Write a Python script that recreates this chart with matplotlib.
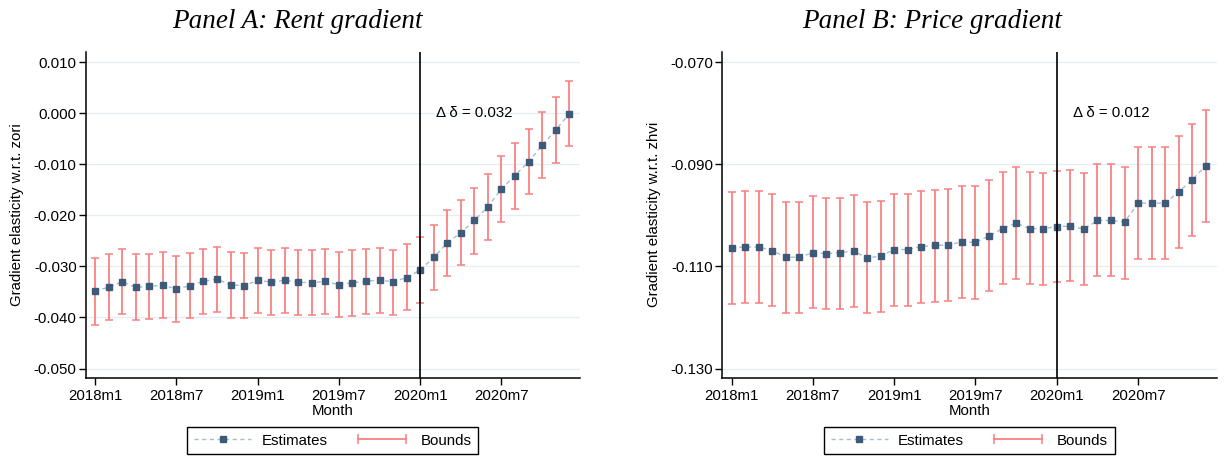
import matplotlib
matplotlib.use("Agg")
import matplotlib.pyplot as plt
import numpy as np
from matplotlib.lines import Line2D
from matplotlib.legend_handler import HandlerLine2D

plt.rcParams['font.family'] = ['Liberation Sans', 'DejaVu Sans']

# months 2018m1 .. 2020m12
tick_labels = ["2018m1", "2018m7", "2019m1", "2019m7", "2020m1", "2020m7"]
tick_pos = [0, 6, 12, 18, 24, 30]
break_month = 24  # 2020m1

rent_est = [-0.0348, -0.0341, -0.0330, -0.0341, -0.0339, -0.0337, -0.0344, -0.0338, -0.0329, -0.0325,
            -0.0336, -0.0338, -0.0327, -0.0331, -0.0327, -0.0331, -0.0332, -0.0329, -0.0336, -0.0332,
            -0.0329, -0.0327, -0.0330, -0.0322, -0.0307, -0.0282, -0.0254, -0.0234, -0.0210, -0.0183,
            -0.0148, -0.0122, -0.0095, -0.0063, -0.0033, -0.0001]
rent_upper = [-0.0284, -0.0276, -0.0265, -0.0276, -0.0275, -0.0272, -0.0280, -0.0273, -0.0265, -0.0261,
              -0.0272, -0.0273, -0.0263, -0.0267, -0.0263, -0.0267, -0.0267, -0.0265, -0.0271, -0.0268,
              -0.0265, -0.0263, -0.0267, -0.0256, -0.0243, -0.0218, -0.0190, -0.0169, -0.0146, -0.0119,
              -0.0084, -0.0059, -0.0030, 0.0002, 0.0031, 0.0063]
rent_lower = [-0.0414, -0.0405, -0.0394, -0.0405, -0.0403, -0.0401, -0.0409, -0.0402, -0.0393, -0.0390,
              -0.0401, -0.0402, -0.0391, -0.0395, -0.0392, -0.0395, -0.0396, -0.0394, -0.0400, -0.0397,
              -0.0394, -0.0392, -0.0395, -0.0386, -0.0371, -0.0346, -0.0319, -0.0298, -0.0275, -0.0248,
              -0.0213, -0.0187, -0.0158, -0.0127, -0.0097, -0.0065]

price_est = [-0.1063, -0.1062, -0.1062, -0.1069, -0.1082, -0.1082, -0.1073, -0.1075, -0.1073, -0.1070,
             -0.1083, -0.1080, -0.1067, -0.1067, -0.1061, -0.1059, -0.1058, -0.1052, -0.1053, -0.1040,
             -0.1026, -0.1015, -0.1026, -0.1026, -0.1022, -0.1021, -0.1027, -0.1010, -0.1010, -0.1013,
             -0.0976, -0.0976, -0.0976, -0.0954, -0.0930, -0.0903]
price_upper = [-0.0954, -0.0952, -0.0952, -0.0959, -0.0973, -0.0973, -0.0963, -0.0965, -0.0965, -0.0961,
               -0.0973, -0.0971, -0.0958, -0.0959, -0.0952, -0.0950, -0.0948, -0.0943, -0.0943, -0.0930,
               -0.0916, -0.0906, -0.0916, -0.0917, -0.0914, -0.0911, -0.0917, -0.0900, -0.0900, -0.0905,
               -0.0867, -0.0867, -0.0867, -0.0845, -0.0822, -0.0794]
price_lower = [-0.1173, -0.1172, -0.1171, -0.1178, -0.1192, -0.1192, -0.1182, -0.1184, -0.1183, -0.1179,
               -0.1192, -0.1190, -0.1177, -0.1177, -0.1171, -0.1169, -0.1167, -0.1162, -0.1163, -0.1149,
               -0.1135, -0.1125, -0.1135, -0.1136, -0.1131, -0.1129, -0.1137, -0.1119, -0.1119, -0.1124,
               -0.1086, -0.1086, -0.1085, -0.1064, -0.1040, -0.1013]

rent_yticks = [0.010, 0.000, -0.010, -0.020, -0.030, -0.040, -0.050]
price_yticks = [-0.070, -0.090, -0.110, -0.130]

NAVY = '#3d5a78'
DASH = '#a9bccb'
RED = '#f98080'
FS = 10.8


def draw_panel(ax, est, upper, lower, yticks, ylim, ylabel, delta_text, delta_y):
    x = np.arange(len(est))
    est = np.array(est)
    yerr = [est - np.array(lower), np.array(upper) - est]

    for t in yticks:
        ax.axhline(t, color='#e6edf1', lw=0.9, zorder=0)

    ax.errorbar(x, est, yerr=yerr, fmt='none', ecolor=RED, elinewidth=1.3, capsize=2.6,
                capthick=1.1, zorder=2)
    ax.plot(x, est, ls='--', dashes=(3, 2.5), color=DASH, lw=1.0, marker='s', ms=5,
            mfc=NAVY, mec=NAVY, zorder=3)
    ax.axvline(break_month, color='black', lw=1.2, zorder=4)

    ax.text(break_month + 1.2, delta_y, delta_text, ha='left', va='center', fontsize=FS)

    ax.set_xlim(-0.69, 35.8)
    ax.set_ylim(*ylim)
    ax.set_xticks(tick_pos)
    ax.set_xticklabels(tick_labels, fontsize=FS)
    ax.set_yticks(yticks)
    ax.set_yticklabels([f"{t:.3f}" for t in yticks], fontsize=FS)
    ax.tick_params(axis='y', length=5, width=1, pad=1.5)
    ax.tick_params(axis='x', length=5, width=1, pad=3)
    ax.set_xlabel("Month", fontsize=FS, labelpad=1)
    ax.set_ylabel(ylabel, fontsize=FS)
    ax.yaxis.set_label_coords(-0.124, 0.5)

    for side in ['top', 'right']:
        ax.spines[side].set_visible(False)
    for side in ['left', 'bottom']:
        ax.spines[side].set_linewidth(1.1)

    est_handle = Line2D([], [], ls='--', dashes=(3, 2.5), color=DASH, lw=1.0, marker='s', ms=5,
                        mfc=NAVY, mec=NAVY)
    bnd_handle = Line2D([], [], color=RED, lw=1.3, marker='|', ms=7, mew=1.1)
    leg = ax.legend([est_handle, bnd_handle], ["Estimates", "Bounds"], loc='upper center',
                    bbox_to_anchor=(0.5, -0.151), ncol=2, fontsize=FS, frameon=True,
                    fancybox=False, edgecolor='black', framealpha=1, handlelength=3.8,
                    handletextpad=0.7, columnspacing=1.7, borderpad=0.45, borderaxespad=0,
                    handler_map={bnd_handle: HandlerLine2D(numpoints=2)})
    leg.get_frame().set_linewidth(1.0)


fig = plt.figure(figsize=(12.25, 4.59), dpi=100)
ax_a = fig.add_axes([0.070, 0.1771, 0.4035, 0.7096])
ax_b = fig.add_axes([0.5896, 0.1771, 0.4036, 0.7096])

draw_panel(ax_a, rent_est, rent_upper, rent_lower, rent_yticks, (-0.0518, 0.0120),
           "Gradient elasticity w.r.t. zori", "Δ δ = 0.032", 0.0)
draw_panel(ax_b, price_est, price_upper, price_lower, price_yticks, (-0.1318, -0.0680),
           "Gradient elasticity w.r.t. zhvi", "Δ δ = 0.012", -0.080)

title_font = dict(family=['Liberation Serif', 'DejaVu Serif'], style='italic', fontsize=19.5)
fig.text(297 / 1225, 1 - 28 / 459, "Panel A: Rent gradient", ha='center', va='baseline', **title_font)
fig.text(932 / 1225, 1 - 28 / 459, "Panel B: Price gradient", ha='center', va='baseline', **title_font)

fig.savefig("out.png", dpi=100)
